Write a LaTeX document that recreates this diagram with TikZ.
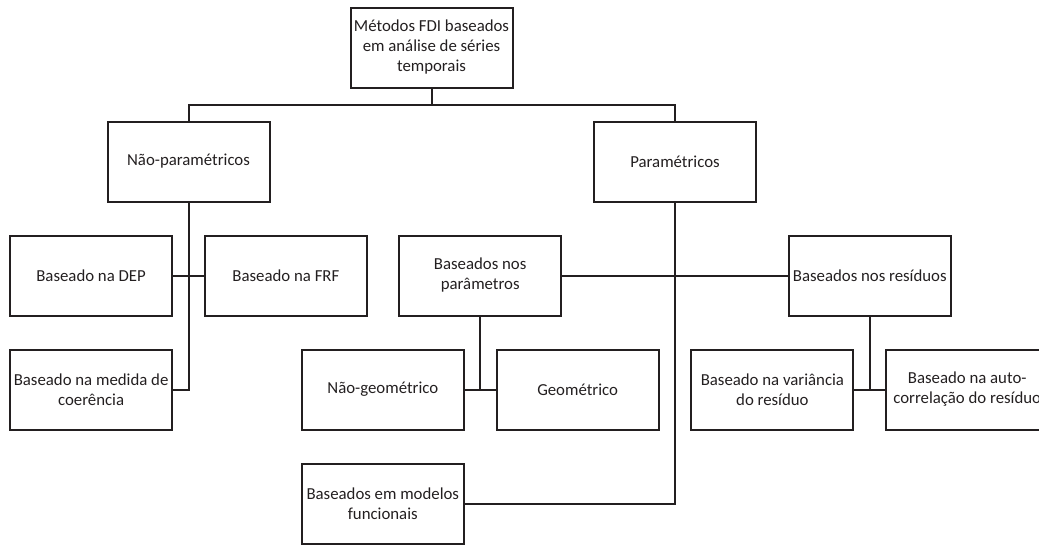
\documentclass[tikz,border=0pt]{standalone}
\usepackage{fontspec}
\setmainfont{Carlito}
\usetikzlibrary{positioning}
\definecolor{ink}{HTML}{231F20}

\begin{document}
\begin{tikzpicture}[x=1pt,y=1pt,node distance=114pt and 97.4pt,on grid,
   box/.style={draw=ink,text=ink,line width=2pt,minimum width=162pt,minimum height=80pt,
               inner sep=0pt,align=center,font=\fontsize{16.8}{20}\selectfont},
   link/.style={draw=ink,line width=2pt}]
   \path[use as bounding box,clip] (0,0) rectangle (1039,-544);
   % tree nodes
   \node [box] (root) at (431.5,-47.5) {Métodos FDI baseados\\em análise de séries\\temporais};
   \node [box] (naoparam) [below left=114pt and 243pt of root] {Não-paramétricos};
   \node [box] (param) [below right=114pt and 243.5pt of root] {Paramétricos};
   \node [box] (dep) [below left= of naoparam] {Baseado na DEP};
   \node [box] (frf) [below right= of naoparam] {Baseado na FRF};
   \node [box] (coer) [below= of dep] {Baseado na medida de\\coerência};
   \node [box] (bparam) [below left=114pt and 194.8pt of param] {Baseados nos\\parâmetros};
   \node [box] (bres) [below right=114pt and 194.8pt of param] {Baseados nos resíduos};
   \node [box] (naogeo) [below left= of bparam] {Não-geométrico};
   \node [box] (geo) [below right= of bparam] {Geométrico};
   \node [box] (var) [below left= of bres] {Baseado na variância\\do resíduo};
   \node [box] (auto) [below right= of bres] {Baseado na auto-\\correlação do resíduo};
   \node [box] (func) [below= of naogeo] {Baseados em modelos\\funcionais};
   % connectors
   \draw [link] (root.south) -- ++(0,-16.5) coordinate (j0);
   \draw [link] (naoparam.north) |- (j0) -| (param.north);
   \draw [link] (naoparam.south) |- (coer.east);
   \draw [link] (dep.east) -- (frf.west);
   \draw [link] (param.south) |- (func.east);
   \draw [link] (bparam.east) -- (bres.west);
   \draw [link] (bparam.south) -- (bparam |- naogeo.east);
   \draw [link] (naogeo.east) -- (geo.west);
   \draw [link] (bres.south) -- (bres |- var.east);
   \draw [link] (var.east) -- (auto.west);
\end{tikzpicture}
\end{document}
